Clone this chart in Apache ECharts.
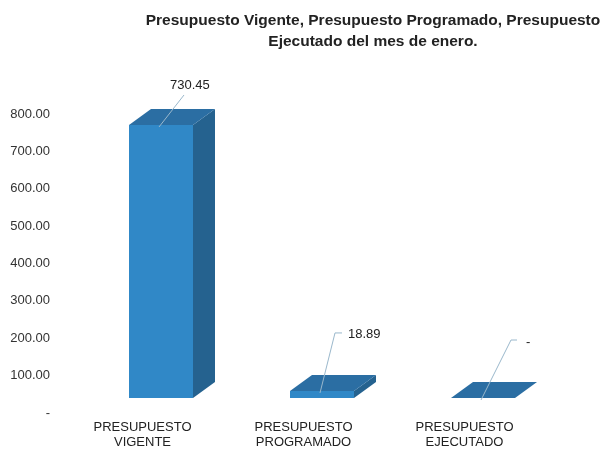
<!DOCTYPE html>
<html>
<head>
<meta charset="utf-8">
<script src="https://cdn.jsdelivr.net/npm/echarts@6/dist/echarts.min.js"></script>
<style>
  html, body { margin: 0; padding: 0; background: #fff; }
  #chart { width: 609px; height: 451px; }
</style>
</head>
<body>
<div id="chart"></div>
<script>
// datos del gráfico
const categorias = ['PRESUPUESTO\nVIGENTE', 'PRESUPUESTO\nPROGRAMADO', 'PRESUPUESTO\nEJECUTADO'];
const valores = [730.45, 18.89, 0];
const ticksY = [0, 100, 200, 300, 400, 500, 600, 700, 800];

// estilo de la caja 3D (px)
const caja = { ancho: 64, desplazX: 18.5, elevar: 15, fondoX: 22, fondoY: -16 };
const colores = { frente: '#3088c7', lado: '#25628f', arriba: '#2b6ea3', guia: '#9ab8cc' };
// guías de las etiquetas: codo y posición del texto relativos al ancla
const guias = [
  { codo: [25, -32], tramo: 0, texto: [11, -42] },
  { codo: [15, -60], tramo: 7, texto: [28, -59] },
  { codo: [30, -60], tramo: 6, texto: [45, -58] },
];

function fmt(v) {
  return v === 0 ? '-' : v.toFixed(2);
}

const myChart = echarts.init(document.getElementById('chart'));
myChart.setOption({
  backgroundColor: '#fff',
  animation: false,
  title: {
    text: 'Presupuesto Vigente, Presupuesto Programado, Presupuesto\nEjecutado del mes de enero.',
    left: 368,
    top: 5,
    textAlign: 'center',
    textStyle: {
      fontFamily: 'Liberation Sans',
      fontSize: 15.5,
      fontWeight: 'bold',
      color: '#222',
      lineHeight: 21,
    },
  },
  grid: { left: 62, right: 64, top: 114, bottom: 38 },
  xAxis: {
    type: 'category',
    data: categorias,
    axisLine: { show: false },
    axisTick: { show: false },
    axisLabel: {
      margin: 7,
      fontFamily: 'Liberation Sans',
      fontSize: 13,
      lineHeight: 15,
      color: '#222',
    },
  },
  yAxis: {
    type: 'value',
    min: ticksY[0],
    max: ticksY[ticksY.length - 1],
    interval: 100,
    axisLine: { show: false },
    axisTick: { show: false },
    splitLine: { show: false },
    axisLabel: {
      margin: 12,
      fontFamily: 'Liberation Sans',
      fontSize: 13,
      color: '#333',
      formatter: fmt,
    },
  },
  series: [
    {
      type: 'custom',
      data: valores.map((v, i) => [i, v]),
      renderItem(params, api) {
        const i = params.dataIndex;
        const v = api.value(1);
        const top = api.coord([i, v]);
        const base = api.coord([i, 0]);
        const cx = base[0] + caja.desplazX;
        const x0 = cx - caja.ancho / 2;
        const x1 = cx + caja.ancho / 2;
        const yt = top[1] - caja.elevar;
        const yb = base[1] - caja.elevar;
        const dx = caja.fondoX;
        const dy = caja.fondoY;
        const g = guias[i];
        const ancla = [cx - 2, yt + 2];
        const codo = [ancla[0] + g.codo[0], ancla[1] + g.codo[1]];
        const puntos = [ancla, codo];
        if (g.tramo) puntos.push([codo[0] + g.tramo, codo[1]]);
        return {
          type: 'group',
          children: [
            {
              type: 'polygon',
              shape: { points: [[x1, yb], [x1 + dx, yb + dy], [x1 + dx, yt + dy], [x1, yt]] },
              style: { fill: colores.lado },
            },
            {
              type: 'rect',
              shape: { x: x0, y: yt, width: caja.ancho, height: yb - yt },
              style: { fill: colores.frente },
            },
            {
              type: 'polygon',
              shape: { points: [[x0, yt], [x0 + dx, yt + dy], [x1 + dx, yt + dy], [x1, yt]] },
              style: { fill: colores.arriba },
            },
            {
              type: 'polyline',
              shape: { points: puntos },
              style: { stroke: colores.guia, lineWidth: 1, fill: null },
            },
            {
              type: 'text',
              x: ancla[0] + g.texto[0],
              y: ancla[1] + g.texto[1],
              style: {
                text: fmt(v),
                fontFamily: 'Liberation Sans',
                fontSize: 13,
                fill: '#222',
                verticalAlign: 'middle',
              },
            },
          ],
        };
      },
    },
  ],
});
</script>
</body>
</html>
